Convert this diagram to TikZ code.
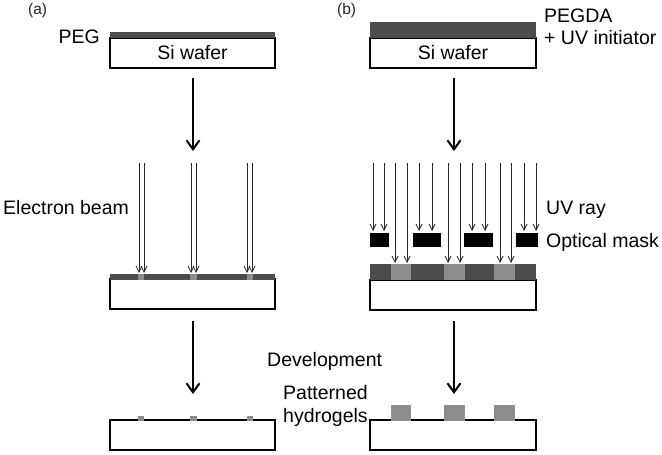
\documentclass[tikz,border=0pt]{standalone}
\usepackage{fontspec}
\setmainfont{Liberation Sans}
\usetikzlibrary{arrows.meta,calc}
\definecolor{layerdark}{HTML}{4C4C4C}
\definecolor{layerlight}{HTML}{8C8C8C}
\definecolor{beamcol}{HTML}{2A2A2A}
\begin{document}
\begin{tikzpicture}[x=1pt,y=-1pt,
  wafer/.style={draw=black,line width=1.3pt,fill=white,minimum width=165pt,minimum height=30pt,inner sep=0pt,font=\fontsize{19.5}{22}\selectfont},
  lbl/.style={anchor=base west,inner sep=0pt,font=\fontsize{19.5}{22}\selectfont},
  panel/.style={anchor=base west,inner sep=0pt,font=\fontsize{15.5}{18}\selectfont,text=black!85},
  bigarrow/.style={line width=2pt,-{Straight Barb[length=9pt,width=13pt,line width=2pt]}},
  beam/.style={line width=0.8pt,draw=beamcol,-{Straight Barb[length=6pt,width=6pt,line width=0.8pt]}},
]
\useasboundingbox (0,0) rectangle (662,455);

% panel labels
\node[panel] (pa) at (28,14) {(a)};
\node[panel] (pb) at (337,14) {(b)};

% ---- left column ----
\node[wafer] (wa1) at (192.5,53) {Si wafer};
\fill[layerdark] (110,32) rectangle (275,38);
\node[lbl,anchor=base east] (peg) at (100,43) {PEG};

\node[wafer] (wa2) at (192.5,294) {};
\fill[layerdark] (110,274) rectangle (275,279.5);
\foreach \a/\b in {138/144,190/197,247/253}{
  \fill[layerlight] (\a,274) rectangle (\b,279.5);
}
\foreach \x in {139,144,191,196,247,252}{
  \draw[beam] (\x,163) -- (\x,273);
}
\node[lbl] (eb) at (3,214) {Electron beam};

\node[wafer] (wa3) at (192.5,435) {};
\foreach \a/\b in {138/144,190/197,247/253}{
  \fill[layerlight] (\a,416) rectangle (\b,420.5);
}

\coordinate (la1s) at (193,78);
\coordinate (la1e) at (193,151);
\coordinate (la2s) at (193,321);
\coordinate (la2e) at (193,394);
\draw[bigarrow] (la1s) -- (la1e);
\draw[bigarrow] (la2s) -- (la2e);

% ---- right column ----
\node[wafer,minimum width=166pt] (wb1) at (453,53) {Si wafer};
\fill[layerdark] (370,22) rectangle (536,38);
\node[lbl] (pegda) at (544,22.5) {PEGDA};
\node[lbl] (uvi) at (544,44) {+ UV initiator};

\node[wafer,minimum width=166pt] (wb2) at (453,295) {};
\fill[layerdark] (370,264) rectangle (536,280);
\foreach \a/\b in {391/411,444/465,494/515}{
  \fill[layerlight] (\a,264) rectangle (\b,280);
}
\foreach \a/\b in {370/389,413/441,464/493,516/538}{
  \fill[black] (\a,233) rectangle (\b,247);
}
\foreach \x in {373,384,419,432,472,485,524,536}{
  \draw[beam] (\x,163) -- (\x,231);
}
\foreach \x in {395,407,448,460,500,511}{
  \draw[beam] (\x,163) -- (\x,263);
}
\node[lbl] (uv) at (546,214) {UV ray};
\node[lbl] (om) at (546,247) {Optical mask};

\node[wafer,minimum width=166pt] (wb3) at (453,435) {};
\foreach \a/\b in {391/411,444/465,494/515}{
  \fill[layerlight] (\a,405) rectangle (\b,420.5);
}

\coordinate (lb1s) at (454,78);
\coordinate (lb1e) at (454,151);
\coordinate (lb2s) at (454,321);
\coordinate (lb2e) at (454,394);
\draw[bigarrow] (lb1s) -- (lb1e);
\draw[bigarrow] (lb2s) -- (lb2e);

\node[lbl] (dev) at (267,366) {Development};
\node[lbl] (pat) at (283,399) {Patterned};
\node[lbl] (hyd) at (283,422) {hydrogels};
\end{tikzpicture}
\end{document}
